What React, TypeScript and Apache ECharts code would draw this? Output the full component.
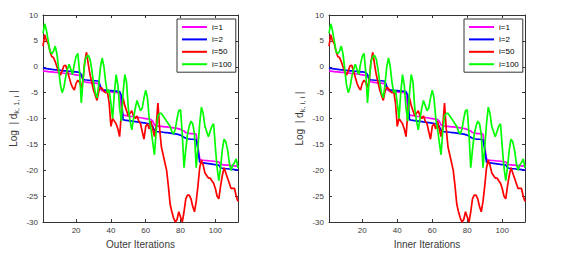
import React, { useEffect, useRef } from "react";
import * as echarts from "echarts";

// iteration index (x values)
const iterations: number[] = [
  1, 2, 3, 4, 5, 6, 7, 8, 9, 10, 11, 12, 13, 14, 15, 16, 17, 18, 19, 20,
  21, 22, 23, 24, 25, 26, 27, 28, 29, 30, 31, 32, 33, 34, 35, 36, 37, 38, 39, 40,
  41, 42, 43, 44, 45, 46, 47, 48, 49, 50, 51, 52, 53, 54, 55, 56, 57, 58, 59, 60,
  61, 62, 63, 64, 65, 66, 67, 68, 69, 70, 71, 72, 73, 74, 75, 76, 77, 78, 79, 80,
  81, 82, 83, 84, 85, 86, 87, 88, 89, 90, 91, 92, 93, 94, 95, 96, 97, 98, 99, 100,
  101, 102, 103, 104, 105, 106, 107, 108, 109, 110, 111, 112, 113,
];

const seriesNames: string[] = ["i=1", "i=2", "i=50", "i=100"];
const seriesColors: string[] = ["#ff00ff", "#0000ff", "#ff0000", "#00ff00"];

const valuesI1: number[] = [
  -0.8, -0.85, -0.9, -0.95, -1.0,
  -1.0, -1.05, -1.1, -1.1, -1.15, -1.2, -1.2,
  -1.25, -1.3, -1.3, -1.35, -1.4, -1.45, -1.5, -1.55, -1.6, -1.7,
  -1.8, -2.6, -2.9,
  -3.0, -3.0, -3.05, -3.1, -3.1, -3.15, -3.2, -3.3,
  -4.2, -4.6,
  -4.7, -4.75, -4.8, -4.8, -4.85, -4.9, -4.9, -4.95, -5.0, -5.1,
  -8.0, -9.3,
  -9.4, -9.45, -9.5, -9.55, -9.6, -9.65, -9.7, -9.75, -9.8, -9.85, -9.9, -9.95, -10.0, -10.05, -10.1, -10.2,
  -10.5, -11.2,
  -11.4, -11.45, -11.5, -11.5, -11.55, -11.6, -11.6, -11.65, -11.7, -11.75, -11.8, -11.85, -11.9,
  -12.0, -12.1, -12.3, -12.4,
  -12.7,
  -12.8, -12.85, -12.9, -12.9, -12.95, -13.0,
  -15.5, -17.8,
  -18.0, -18.05, -18.1, -18.1, -18.15, -18.2, -18.2, -18.25, -18.3, -18.35, -18.4,
  -18.8,
  -18.9, -18.95, -19.0, -19.0, -19.05, -19.1, -19.1, -19.15, -19.2, -19.2,
];

const valuesI2: number[] = [
  -0.2, -0.3, -0.35, -0.4, -0.45,
  -0.5, -0.55, -0.6, -0.6, -0.65, -0.7, -0.75,
  -0.8, -0.8, -0.85, -0.9, -0.9, -0.95, -1.0, -1.0, -1.05, -1.1,
  -1.5, -2.4, -2.5,
  -2.55, -2.6, -2.6, -2.65, -2.7, -2.7, -2.75, -2.8,
  -3.8, -4.4,
  -4.5, -4.5, -4.55, -4.6, -4.6, -4.65, -4.7, -4.7, -4.75, -4.8,
  -5.5, -10.2,
  -10.3, -10.35, -10.4, -10.45, -10.5, -10.55, -10.6, -10.65, -10.7, -10.75, -10.8, -10.85, -10.9, -10.95, -11.0, -11.1,
  -11.5, -12.3,
  -12.5, -12.55, -12.6, -12.6, -12.65, -12.7, -12.7, -12.75, -12.8, -12.85, -12.9, -12.95, -13.0,
  -13.1, -13.2, -13.4, -13.6,
  -13.8,
  -13.9, -13.95, -14.0, -14.0, -14.05, -14.1,
  -16.0, -18.4,
  -18.5, -18.55, -18.6, -18.65, -18.7, -18.75, -18.8, -18.85, -18.9, -18.95, -19.0,
  -19.5,
  -19.6, -19.65, -19.7, -19.7, -19.75, -19.8, -19.8, -19.85, -19.9, -19.95,
];

const valuesI50: number[] = [
  4.0, 6.2, 5.0, 4.5, 3.0, 2.0, 1.8, 1.0, 0.0, -1.0,
  -1.6, -0.8, 0.2, 0.3, -0.8, -2.0, -3.2, -4.0, -4.5, -3.2,
  -2.6, -3.0, -4.0, -2.5, 1.0, 2.8, 0.5, -1.5, -3.0, -4.5,
  -5.5, -6.5, -4.8, -4.0, -4.2, -4.8, -5.0, -4.8, -7.0, -11.5,
  -10.0, -10.5, -11.0, -12.0, -13.5, -9.0, -6.0, -7.5, -8.5, -9.5,
  -9.0, -8.5, -9.5, -10.0, -9.5, -10.5, -11.0, -12.5, -14.0, -11.5,
  -11.0, -12.0, -10.5, -12.0, -13.5, -11.5, -7.0, -12.0, -15.5, -17.0,
  -18.5, -20.0, -23.0, -26.5, -28.0, -29.2, -30.0, -29.5, -28.0, -29.0,
  -30.0, -28.0, -25.5, -24.8, -24.8, -25.5, -27.0, -28.0, -26.0, -23.0,
  -19.5, -18.0, -19.0, -20.5, -21.0, -21.5, -21.5, -22.0, -22.5, -23.5,
  -25.0, -25.5, -23.0, -21.0, -19.5, -20.5, -21.5, -22.5, -23.5, -23.5,
  -23.5, -25.0, -26.0,
];

const valuesI100: number[] = [
  6.5, 8.3, 7.0, 5.0, 3.0, 2.5, 3.0, 4.0, 2.5, -0.5,
  -3.5, -5.0, -4.0, -2.0, -0.5, 0.5, -0.5, -1.5, 0.5, 2.0,
  2.6, -1.0, -7.0, -2.5, 1.0, 2.0, 2.2, 1.5, -0.5, -3.0,
  -5.0, -6.0, -3.5, 0.0, 1.7, 0.0, -3.0, -5.0, -4.5, -7.0,
  -10.0, -5.0, -1.5, -3.5, -8.0, -10.5, -5.0, -1.5, -3.0, -8.0,
  -10.5, -12.2, -10.0, -8.0, -6.5, -7.5, -8.5, -8.0, -6.0, -4.5,
  -6.0, -10.0, -12.0, -14.5, -17.0, -12.5, -9.5, -9.0, -9.0, -9.5,
  -10.0, -10.5, -11.0, -11.5, -12.5, -13.0, -12.0, -10.0, -8.5, -8.3,
  -13.0, -19.5, -16.0, -13.0, -11.5, -10.5, -11.0, -13.0, -19.5, -15.5,
  -11.0, -7.8, -9.0, -11.5, -12.5, -13.5, -12.5, -11.5, -11.0, -15.5,
  -19.5, -22.0, -19.5, -16.0, -14.0, -14.5, -16.0, -18.5, -20.0, -19.0,
  -18.5, -17.8, -19.5,
];

const allValues: number[][] = [valuesI1, valuesI2, valuesI50, valuesI100];

const xTickValues: number[] = [20, 40, 60, 80, 100];
const xMin = 1;
const xMax = 113;
const yMin = -30;
const yMax = 10;
const yStep = 5;

const xTitles: string[] = ["Outer Iterations", "Inner Iterations"];
const yTitles: string[] = [
  "{a|Log  | d}{s|k, 1, i}{a| |}",
  "{a|Log  | d}{s|k, i, i}{a| |}",
];

const FONT = "'Liberation Sans', Arial, Helvetica, sans-serif";
const AXIS_COLOR = "#333333";
const TEXT_COLOR = "#3a3a3a";

export default function App() {
  const ref = useRef<HTMLDivElement>(null);

  useEffect(() => {
    if (!ref.current) return;
    const chart = echarts.init(ref.current, null, { renderer: "svg" });

    const grids = [
      { left: 43, top: 15, width: 195, height: 212 },
      { left: 329, top: 15, width: 196, height: 212 },
    ];
    const legendLefts = [177, 464];

    const xAxis: any[] = [];
    const yAxis: any[] = [];
    const series: any[] = [];
    const legend: any[] = [];

    grids.forEach((_, g) => {
      xAxis.push({
        type: "value",
        gridIndex: g,
        min: xMin,
        max: xMax,
        position: "bottom",
        axisLine: { show: true, onZero: false, lineStyle: { color: AXIS_COLOR, width: 1 } },
        axisTick: { show: true, inside: true, length: 3, customValues: xTickValues, lineStyle: { color: AXIS_COLOR } },
        axisLabel: { show: true, customValues: xTickValues, fontSize: 8, color: TEXT_COLOR, margin: 4, fontFamily: FONT },
        splitLine: { show: false },
        name: xTitles[g],
        nameLocation: "middle",
        nameGap: 14,
        nameTextStyle: { fontSize: 10, color: TEXT_COLOR, fontFamily: FONT },
      });
      xAxis.push({
        type: "value",
        gridIndex: g,
        min: xMin,
        max: xMax,
        position: "top",
        axisLine: { show: true, onZero: false, lineStyle: { color: AXIS_COLOR, width: 1 } },
        axisTick: { show: true, inside: true, length: 3, customValues: xTickValues, lineStyle: { color: AXIS_COLOR } },
        axisLabel: { show: false },
        splitLine: { show: false },
      });
      yAxis.push({
        type: "value",
        gridIndex: g,
        min: yMin,
        max: yMax,
        interval: yStep,
        position: "left",
        axisLine: { show: true, onZero: false, lineStyle: { color: AXIS_COLOR, width: 1 } },
        axisTick: { show: true, inside: true, length: 3, lineStyle: { color: AXIS_COLOR } },
        axisLabel: { show: true, fontSize: 8, color: TEXT_COLOR, margin: 5, fontFamily: FONT },
        splitLine: { show: false },
        name: yTitles[g],
        nameLocation: "middle",
        nameGap: 23,
        nameRotate: 90,
        nameTextStyle: {
          color: TEXT_COLOR,
          fontFamily: FONT,
          rich: {
            a: { fontSize: 10, lineHeight: 14, color: TEXT_COLOR, fontFamily: FONT },
            s: { fontSize: 7.5, lineHeight: 9, verticalAlign: "bottom", color: TEXT_COLOR, fontFamily: FONT },
          },
        },
      });
      yAxis.push({
        type: "value",
        gridIndex: g,
        min: yMin,
        max: yMax,
        interval: yStep,
        position: "right",
        axisLine: { show: true, onZero: false, lineStyle: { color: AXIS_COLOR, width: 1 } },
        axisTick: { show: true, inside: true, length: 3, lineStyle: { color: AXIS_COLOR } },
        axisLabel: { show: false },
        splitLine: { show: false },
      });

      allValues.forEach((vals, s) => {
        series.push({
          type: "line",
          name: seriesNames[s],
          xAxisIndex: g * 2,
          yAxisIndex: g * 2,
          data: vals.map((v, i) => [iterations[i], v]),
          showSymbol: false,
          symbol: "none",
          lineStyle: { color: seriesColors[s], width: 1.7 },
          itemStyle: { color: seriesColors[s] },
          clip: true,
        });
      });

      legend.push({
        left: legendLefts[g],
        top: 19,
        orient: "vertical",
        data: seriesNames,
        icon: "rect",
        itemWidth: 25,
        itemHeight: 2,
        itemGap: 2.4,
        selectedMode: false,
        textStyle: { fontSize: 8, lineHeight: 10, color: "#000", fontFamily: FONT },
        borderColor: AXIS_COLOR,
        borderWidth: 1,
        backgroundColor: "#ffffff",
        padding: [3, 4, 3, 5],
      });
    });

    chart.setOption({
      animation: false,
      backgroundColor: "#ffffff",
      grid: grids,
      xAxis,
      yAxis,
      series,
      legend,
    });

    return () => {
      chart.dispose();
    };
  }, []);

  return (
    <div
      ref={ref}
      style={{ position: "absolute", left: 0, top: 0, width: 562, height: 254 }}
    />
  );
}
